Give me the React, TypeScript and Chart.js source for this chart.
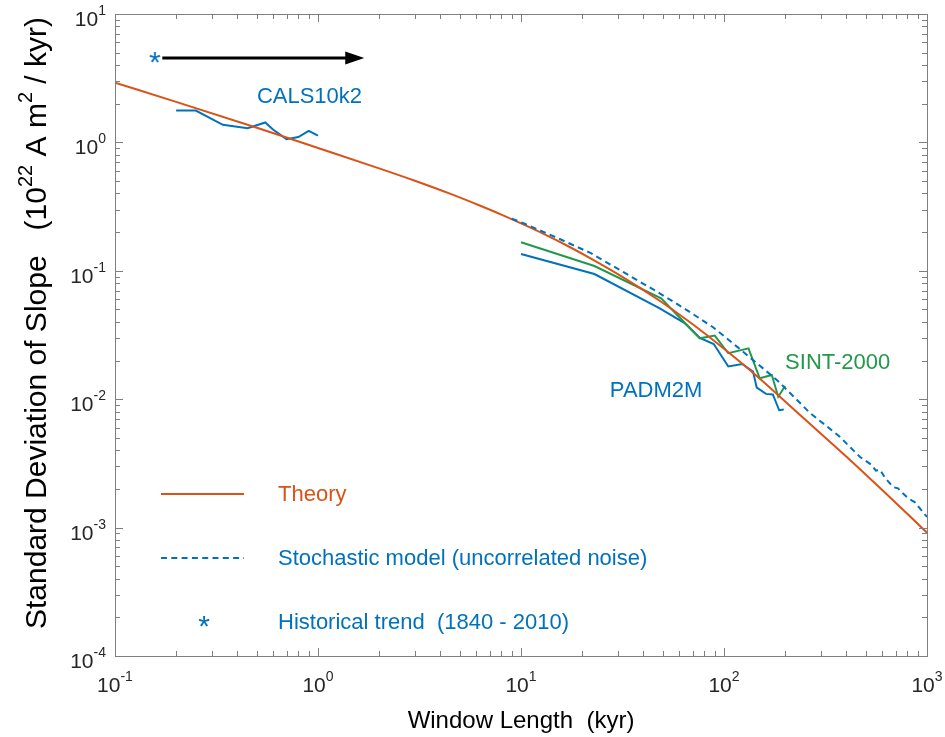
import { useEffect, useRef } from "react";
import { Chart, registerables } from "chart.js";

Chart.register(...registerables);

// ---- data (window length in kyr, standard deviation of slope) ----
const THEORY_KYR = [0.1, 0.2, 0.5, 1, 2, 3, 4.5, 6.3, 8, 10, 13, 17, 22, 32, 48, 68, 100, 145, 237, 400, 600, 1000];
const THEORY_SD = [2.92, 2.07, 1.3, 0.905, 0.628, 0.503, 0.397, 0.321, 0.274, 0.234, 0.193, 0.156, 0.125, 0.0886, 0.0587, 0.0397, 0.0247, 0.01516, 0.00753, 0.00358, 0.00197, 0.000913];

const STOCH_KYR = [9, 10.2, 15, 22, 32, 48, 65, 88, 115, 145, 182, 220, 265, 320, 373, 420, 468, 530, 560, 587, 620, 650, 680, 720, 760, 796, 840, 870, 893, 940, 1000];
const STOCH_SD = [0.255, 0.236, 0.181, 0.1377, 0.0975, 0.0671, 0.0499, 0.0365, 0.0259, 0.0191, 0.01412, 0.0105, 0.00782, 0.00617, 0.00508, 0.0042, 0.00355, 0.0031, 0.00278, 0.00282, 0.00245, 0.00225, 0.00207, 0.00202, 0.00185, 0.00173, 0.00163, 0.00158, 0.0015, 0.00136, 0.00121];

const CALS_KYR = [0.2, 0.25, 0.34, 0.45, 0.55, 0.6, 0.7, 0.8, 0.9, 1.0];
const CALS_SD = [1.77, 1.77, 1.37, 1.29, 1.43, 1.26, 1.06, 1.1, 1.23, 1.13];

const PADM_KYR = [10, 23, 48, 64, 76, 89, 105, 123, 139, 145, 161, 174, 187, 197];
const PADM_SD = [0.135, 0.0944, 0.0513, 0.0392, 0.03, 0.0269, 0.018, 0.0188, 0.0164, 0.0123, 0.011, 0.0109, 0.0082, 0.0083];

const SINT_KYR = [10, 23, 49, 76, 90, 105, 132, 150, 172, 185, 200];
const SINT_SD = [0.167, 0.109, 0.0611, 0.0298, 0.0313, 0.0228, 0.0249, 0.01455, 0.01544, 0.01046, 0.01268];

// historical trend (1840 - 2010) marker and its arrow
const HIST_KYR = [0.157];
const HIST_SD = [4.54];
const ARROW_FROM_KYR = 0.171;
const ARROW_TO_KYR = 1.69;
const ARROW_SD = 4.54;

// curve name labels: [text, kyr, sd at text baseline, colour]
const CURVE_LABELS: [string, number, number, string][] = [
  ["CALS10k2", 0.5, 2.03, "#0072BD"],
  ["PADM2M", 27.4, 0.0104, "#0072BD"],
  ["SINT-2000", 200, 0.0172, "#22994A"],
];

// axes
const X_MIN = 0.1, X_MAX = 1000;
const Y_MIN = 1e-4, Y_MAX = 10;
const X_MAJOR = [0.1, 1, 10, 100, 1000];
const X_EXP = ["-1", "0", "1", "2", "3"];
const Y_MAJOR = [1e-4, 1e-3, 1e-2, 1e-1, 1, 10];
const Y_EXP = ["-4", "-3", "-2", "-1", "0", "1"];

const minorTicks = (majors: number[]) => {
  const out: number[] = [];
  for (let i = 0; i < majors.length - 1; i++) {
    for (let m = 2; m <= 9; m++) out.push(majors[i] * m);
  }
  return out;
};
const X_MINOR = minorTicks(X_MAJOR);
const Y_MINOR = minorTicks(Y_MAJOR);

const X_TITLE = "Window Length  (kyr)";
const Y_TITLE: [string, boolean][] = [
  ["Standard Deviation of Slope   (10", false],
  ["22", true],
  [" A m", false],
  ["2", true],
  [" / kyr)", false],
];

const LEGEND_ITEMS = [
  { text: "Theory", color: "#D95319", kind: "line" },
  { text: "Stochastic model (uncorrelated noise)", color: "#0072BD", kind: "dash" },
  { text: "Historical trend  (1840 - 2010)", color: "#0072BD", kind: "star" },
];

const RED = "#D95319";
const BLUE = "#0072BD";
const GREEN = "#22994A";
const FRAME = "#7f7f7f";
const TICK_TEXT = "#262626";
const FONT = '"Liberation Sans", Arial, Helvetica, sans-serif';

const pts = (xs: number[], ys: number[]) => xs.map((x, i) => ({ x, y: ys[i] }));

// asterisk marker image, glyph centred in a small canvas
function makeAsterisk(color: string, size: number) {
  const c = document.createElement("canvas");
  c.width = 22;
  c.height = 22;
  const g = c.getContext("2d")!;
  g.font = `${size}px ${FONT}`;
  g.fillStyle = color;
  g.textAlign = "center";
  g.textBaseline = "alphabetic";
  const m = g.measureText("*");
  const asc = m.actualBoundingBoxAscent;
  const desc = m.actualBoundingBoxDescent;
  g.fillText("*", 11, 11 + (asc - desc) / 2 - 1);
  return c;
}

function drawPow(ctx: CanvasRenderingContext2D, exp: string, x: number, y: number, align: "center" | "right", base: number, sup: number, rise: number) {
  ctx.font = `${base}px ${FONT}`;
  const wb = ctx.measureText("10").width;
  ctx.font = `${sup}px ${FONT}`;
  const ws = ctx.measureText(exp).width;
  const total = wb + ws;
  const x0 = align === "center" ? x - total / 2 : x - total;
  ctx.textAlign = "left";
  ctx.textBaseline = "alphabetic";
  ctx.font = `${base}px ${FONT}`;
  ctx.fillText("10", x0, y);
  ctx.font = `${sup}px ${FONT}`;
  ctx.fillText(exp, x0 + wb, y - rise);
}

const makeDecorations = (star: HTMLCanvasElement) => ({
  id: "decorations",
  afterDatasetsDraw(chart: any) {
    const { ctx, chartArea: a, scales } = chart;
    const xs = scales.x, ys = scales.y;
    ctx.save();

    // frame with inward ticks on all four sides
    ctx.strokeStyle = FRAME;
    ctx.lineWidth = 1;
    ctx.beginPath();
    const xTick = (v: number, len: number) => {
      const p = Math.round(xs.getPixelForValue(v)) + 0.5;
      ctx.moveTo(p, a.bottom);
      ctx.lineTo(p, a.bottom - len);
      ctx.moveTo(p, a.top);
      ctx.lineTo(p, a.top + len);
    };
    const yTick = (v: number, len: number) => {
      const p = Math.round(ys.getPixelForValue(v)) + 0.5;
      ctx.moveTo(a.left, p);
      ctx.lineTo(a.left + len, p);
      ctx.moveTo(a.right, p);
      ctx.lineTo(a.right - len, p);
    };
    X_MAJOR.forEach((v) => xTick(v, 8));
    X_MINOR.forEach((v) => xTick(v, 5));
    Y_MAJOR.forEach((v) => yTick(v, 8));
    Y_MINOR.forEach((v) => yTick(v, 5));
    ctx.stroke();
    ctx.strokeRect(Math.round(a.left) + 0.5, Math.round(a.top) + 0.5, Math.round(a.right - a.left), Math.round(a.bottom - a.top));

    // tick labels
    ctx.fillStyle = TICK_TEXT;
    X_MAJOR.forEach((v, i) => drawPow(ctx, X_EXP[i], xs.getPixelForValue(v), a.bottom + 36, "center", 21, 14, 11));
    Y_MAJOR.forEach((v, i) => drawPow(ctx, Y_EXP[i], a.left - 9, ys.getPixelForValue(v) + 12, "right", 21, 14, 11));

    // axis titles
    ctx.fillStyle = "#000";
    ctx.font = `24px ${FONT}`;
    ctx.textAlign = "center";
    ctx.textBaseline = "alphabetic";
    ctx.fillText(X_TITLE, (a.left + a.right) / 2, 728);

    ctx.save();
    ctx.translate(46, 323);
    ctx.rotate(-Math.PI / 2);
    const base = 30, sup = 20;
    let w = 0;
    Y_TITLE.forEach(([t, s]) => {
      ctx.font = `${s ? sup : base}px ${FONT}`;
      w += ctx.measureText(t).width;
    });
    let cx = -w / 2;
    ctx.textAlign = "left";
    Y_TITLE.forEach(([t, s]) => {
      ctx.font = `${s ? sup : base}px ${FONT}`;
      ctx.fillText(t, cx, s ? -14 : 0);
      cx += ctx.measureText(t).width;
    });
    ctx.restore();

    // curve name labels
    ctx.font = `22px ${FONT}`;
    ctx.textAlign = "left";
    CURVE_LABELS.forEach(([t, kx, sd, c]) => {
      ctx.fillStyle = c;
      ctx.fillText(t, xs.getPixelForValue(kx), ys.getPixelForValue(sd));
    });

    // arrow for the historical trend
    const ay = ys.getPixelForValue(ARROW_SD);
    const ax0 = xs.getPixelForValue(ARROW_FROM_KYR);
    const ax1 = xs.getPixelForValue(ARROW_TO_KYR);
    const head = 19;
    ctx.strokeStyle = "#000";
    ctx.fillStyle = "#000";
    ctx.lineWidth = 3;
    ctx.beginPath();
    ctx.moveTo(ax0, ay);
    ctx.lineTo(ax1 - head + 2, ay);
    ctx.stroke();
    ctx.beginPath();
    ctx.moveTo(ax1, ay);
    ctx.lineTo(ax1 - head, ay - 6.5);
    ctx.lineTo(ax1 - head, ay + 6.5);
    ctx.closePath();
    ctx.fill();

    // legend
    const rows = [501, 565, 629];
    LEGEND_ITEMS.forEach((it, i) => {
      const y = rows[i];
      const my = y - 7;
      ctx.strokeStyle = it.color;
      ctx.fillStyle = it.color;
      ctx.lineWidth = 2;
      if (it.kind === "line" || it.kind === "dash") {
        ctx.setLineDash(it.kind === "dash" ? [6, 4.3] : []);
        ctx.beginPath();
        ctx.moveTo(161, my);
        ctx.lineTo(244, my);
        ctx.stroke();
        ctx.setLineDash([]);
      } else {
        ctx.drawImage(star, 204 - star.width / 2, my - star.height / 2);
      }
      ctx.font = `22px ${FONT}`;
      ctx.textAlign = "left";
      ctx.fillText(it.text, 278, y);
    });

    ctx.restore();
  },
});

export default function App() {
  const ref = useRef<HTMLCanvasElement>(null);

  useEffect(() => {
    if (!ref.current) return;
    const star = makeAsterisk(BLUE, 30);
    const line = (data: any[], color: string, extra: any = {}) => ({
      data,
      borderColor: color,
      backgroundColor: color,
      borderWidth: 2,
      pointRadius: 0,
      fill: false,
      ...extra,
    });
    const chart = new Chart(ref.current, {
      type: "line",
      data: {
        datasets: [
          line(pts(HIST_KYR, HIST_SD), BLUE, { showLine: false, pointRadius: 5, pointStyle: star, order: 0 }),
          line(pts(STOCH_KYR, STOCH_SD), BLUE, { borderDash: [6, 4.3], order: 1 }),
          line(pts(THEORY_KYR, THEORY_SD), RED, { cubicInterpolationMode: "monotone", order: 2 }),
          line(pts(SINT_KYR, SINT_SD), GREEN, { order: 3 }),
          line(pts(PADM_KYR, PADM_SD), BLUE, { order: 4 }),
          line(pts(CALS_KYR, CALS_SD), BLUE, { order: 5 }),
        ],
      },
      options: {
        responsive: false,
        animation: false,
        devicePixelRatio: 1,
        layout: { padding: { left: 115, top: 14, right: 18, bottom: 81 } },
        scales: {
          x: { type: "logarithmic", min: X_MIN, max: X_MAX, display: false },
          y: { type: "logarithmic", min: Y_MIN, max: Y_MAX, display: false },
        },
        plugins: { legend: { display: false }, tooltip: { enabled: false } },
        elements: { line: { tension: 0 } },
      },
      plugins: [makeDecorations(star)],
    });
    return () => chart.destroy();
  }, []);

  return (
    <div style={{ position: "fixed", left: 0, top: 0, width: 945, height: 737, background: "#fff" }}>
      <canvas ref={ref} width={945} height={737} style={{ display: "block", width: 945, height: 737 }} />
    </div>
  );
}
